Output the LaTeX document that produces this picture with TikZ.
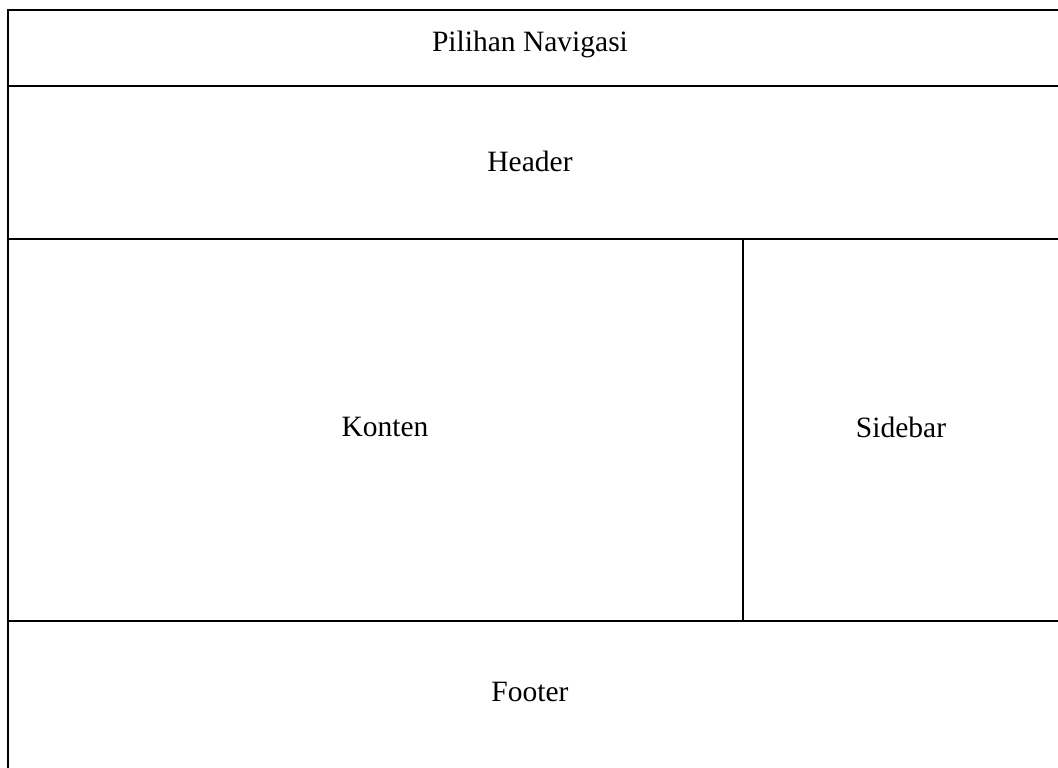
\documentclass[tikz,border=0pt]{standalone}
\usepackage{fontspec}
\setmainfont{Liberation Serif}

\begin{document}
\begin{tikzpicture}[x=1pt,y=-1pt,line width=2.2pt,
  areatext/.style={font=\fontsize{29.5}{34}\selectfont}]
\useasboundingbox (0,0) rectangle (1058,768);
\draw (1058,10) -- (8,10) -- (8,768); % outer frame
\draw (8,86) -- (1058,86); % below navigasi
\draw (8,239) -- (1058,239); % below header
\draw (743,239) -- (743,621); % konten | sidebar
\draw (8,621) -- (1058,621); % above footer

\node[areatext] (navigasi) at (530,44) {Pilihan Navigasi};
\node[areatext] (header) at (530,161) {Header};
\node[areatext] (konten) at (385,427) {Konten};
\node[areatext] (sidebar) at (901,427) {Sidebar};
\node[areatext] (footer) at (530,692) {Footer};
\end{tikzpicture}
\end{document}
